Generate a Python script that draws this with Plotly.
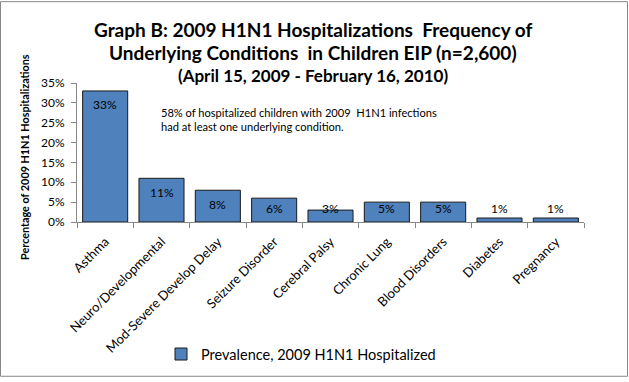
import plotly.graph_objects as go

categories = ["Asthma", "Neuro/Developmental", "Mod-Severe Develop Delay", "Seizure Disorder",
              "Cerebral Palsy", "Chronic Lung", "Blood Disorders", "Diabetes", "Pregnancy"]
values = [33, 11, 8, 6, 3, 5, 5, 1, 1]
labels = [f"{v}%" for v in values]
series_name = "Prevalence, 2009 H1N1 Hospitalized"
title_lines = ["Graph B: 2009 H1N1 Hospitalizations  Frequency of",
               "Underlying Conditions  in Children EIP (n=2,600)",
               "(April 15, 2009 - February 16, 2010)"]
note = "58% of hospitalized children with 2009  H1N1 infections<br>had at least one underlying condition."
y_title = "Percentage of 2009 H1N1 Hospitalizations"
FONT = "Lato"

L, R, T, B = 77, 45, 83, 158
W, H = 629, 382
PW, PH = W - L - R, H - T - B

def px_x(p):
    return (p - L) / PW

def px_y(p):
    return (H - B - p) / PH

fig = go.Figure()
fig.add_trace(go.Bar(
    x=categories, y=values, name=series_name,
    marker=dict(color="#4F81BD", line=dict(color="#1a1a1a", width=1)),
    showlegend=True, hoverinfo="skip",
))
for c, v, t in zip(categories, values, labels):
    fig.add_annotation(x=c, y=max(v - 3.5, 3.3), text=t, showarrow=False, yanchor="middle",
                       font=dict(family=FONT, size=12, color="#000000"))

fig.add_annotation(xref="paper", yref="paper", x=px_x(159), y=px_y(104), xanchor="left", yanchor="top",
                   align="left", showarrow=False, text=note,
                   font=dict(family=FONT, size=11.1, color="#000000"))

for txt, yc, sz in zip(title_lines, [29, 52, 75], [19, 19, 17]):
    fig.add_annotation(xref="paper", yref="paper", x=px_x(313), y=px_y(yc), xanchor="center",
                       yanchor="middle", showarrow=False, text=f"<b>{txt}</b>",
                       font=dict(family=FONT, size=sz, color="#000000"))

fig.add_annotation(xref="paper", yref="paper", x=px_x(25), y=px_y(158), xanchor="center",
                   yanchor="middle", showarrow=False, textangle=-90, text=f"<b>{y_title}</b>",
                   font=dict(family=FONT, size=10.8, color="#000000"))

fig.update_layout(
    width=W, height=H,
    margin=dict(l=L, r=R, t=T, b=B),
    paper_bgcolor="white", plot_bgcolor="white",
    font=dict(family=FONT, size=12, color="#000000"),
    bargap=0.2,
    legend=dict(orientation="h", x=px_x(301), xanchor="center", y=px_y(358), yanchor="middle",
                itemwidth=30, font=dict(family=FONT, size=14.5)),
    shapes=[dict(type="rect", xref="paper", yref="paper", x0=px_x(0.5), x1=px_x(627.5),
                 y0=px_y(380.5), y1=px_y(0.5), line=dict(color="#888888", width=1))],
)
fig.update_xaxes(showline=True, linecolor="#888888", ticks="outside", tickson="boundaries",
                 tickcolor="#888888", ticklen=5, tickangle=-45, showgrid=False, automargin=False,
                 ticklabelstandoff=6, tickfont=dict(family=FONT, size=13))
fig.update_yaxes(range=[0, 35], dtick=5, ticksuffix="%", showline=True, linecolor="#888888",
                 ticks="outside", tickcolor="#888888", ticklen=5, showgrid=False, zeroline=False,
                 automargin=False, ticklabelstandoff=4, tickfont=dict(family=FONT, size=12))

fig.write_html("out.html", config={"displayModeBar": False},
               post_script="document.body.style.margin='0';document.body.style.padding='0';")
